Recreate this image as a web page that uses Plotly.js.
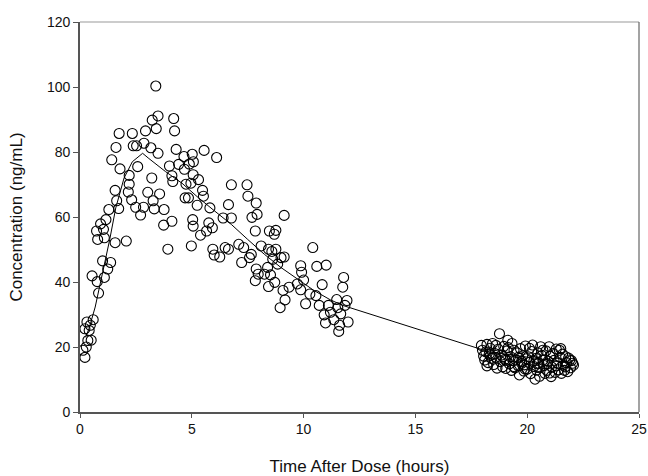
<!DOCTYPE html>
<html>
<head>
<meta charset="utf-8">
<script src="https://cdn.plot.ly/plotly-3.0.1.min.js"></script>
<style>html,body{margin:0;padding:0;background:#fff;}#chart{width:648px;height:476px;}</style>
</head>
<body>
<div id="chart"></div>
<script>
// Observed concentrations, absorption/elimination phase (0-12 h)
var earlyTime = [0.22,0.13,0.28,0.31,0.41,0.35,0.5,0.59,0.46,0.22,0.54,0.77,0.83,0.74,0.79,0.92,1.05,1.09,1.16,1.01,1.09,1.24,1.37,1.29,1.42,1.61,1.75,1.79,1.73,1.57,1.64,1.57,2.07,2.2,2.2,2.16,2.34,2.38,2.31,2.53,2.58,2.49,2.71,2.86,2.93,2.84,3.03,3.17,3.23,3.21,3.27,3.32,3.39,3.41,3.49,3.49,3.56,3.76,3.74,3.93,4.0,4.11,4.15,4.11,4.19,4.23,4.3,4.41,4.65,4.67,4.74,4.7,4.85,4.89,5.02,5.07,5.06,4.96,4.98,5.04,5.06,5.24,5.3,5.39,5.48,5.52,5.55,5.66,5.76,5.81,5.92,5.94,6.0,6.11,6.25,6.4,6.49,6.64,6.64,6.77,6.77,7.1,7.23,7.32,7.47,7.51,7.58,7.66,7.69,7.84,7.88,7.92,7.88,7.84,7.97,8.1,8.25,8.39,8.43,8.43,8.47,8.52,8.58,8.62,8.69,8.76,8.71,8.76,8.84,8.95,8.99,9.08,9.17,9.13,9.13,9.35,9.72,9.87,9.91,9.87,10.0,10.09,10.28,10.41,10.55,10.59,10.7,10.83,10.92,10.98,11.01,11.11,11.2,11.35,11.48,11.53,11.57,11.61,11.66,11.75,11.79,11.85,11.94,11.99];
var earlyConc = [16.8,19.0,20.0,27.7,25.1,22.0,22.1,28.4,26.7,25.6,41.9,40.1,36.6,55.7,53.1,57.9,56.2,53.6,59.2,46.5,41.4,44.0,46.0,62.3,77.6,81.4,85.7,74.8,62.6,68.2,65.0,52.1,52.6,72.8,70.1,67.7,85.7,81.9,65.3,81.9,75.5,63.0,60.6,82.7,86.5,63.0,67.6,81.3,89.8,72.0,65.0,62.5,100.3,87.2,91.1,79.6,67.1,62.3,57.5,50.1,75.7,72.7,70.9,58.7,90.3,86.5,80.8,76.2,78.6,74.7,70.1,65.9,65.9,76.3,79.3,77.0,73.0,70.4,51.1,59.2,57.2,63.6,71.5,54.4,68.2,66.4,80.5,55.7,58.2,62.8,56.7,50.1,48.3,78.3,47.7,59.7,50.6,63.8,50.1,69.9,59.7,51.6,46.0,50.6,69.9,66.4,47.5,48.5,59.9,55.7,64.3,60.8,44.0,40.4,42.4,51.1,42.4,44.5,38.6,50.1,55.7,42.2,49.4,47.0,54.7,55.9,39.9,50.1,45.5,32.1,47.5,37.4,34.5,60.5,47.7,38.4,39.4,45.0,43.0,37.6,40.6,33.3,36.3,50.6,35.8,44.8,32.8,39.2,29.9,27.4,45.2,32.8,30.7,28.4,34.6,32.1,24.8,26.7,30.2,38.4,41.4,32.8,34.3,27.7];
// Observed concentrations, trough phase (18-22 h)
var lateTime = [17.95,18.0,18.05,18.1,18.15,18.2,18.25,18.3,18.35,18.4,18.45,18.5,18.55,18.6,18.65,18.7,18.76,18.8,18.85,18.9,18.95,19.0,19.04,19.1,19.13,19.2,19.25,19.3,19.32,19.38,19.41,19.45,19.5,19.55,19.6,19.65,19.7,19.75,19.8,19.85,19.87,19.92,19.97,20.0,20.05,20.1,20.15,20.2,20.24,20.3,20.35,20.4,20.42,20.48,20.52,20.56,20.6,20.65,20.7,20.75,20.79,20.84,20.88,20.93,20.98,21.02,21.07,21.1,21.16,21.2,21.25,21.3,21.35,21.4,21.44,21.48,21.53,21.58,21.62,21.67,21.72,21.76,21.81,21.85,21.9,21.94,21.98,22.03,22.07,18.2,19.15,20.1,20.7,21.5,19.9,20.55,21.0,18.6,19.4,18.9,19.6,20.3,20.9,21.3,21.7,18.35,19.05,19.75,20.45];
var lateConc = [20.5,19.0,17.2,16.0,18.5,20.8,15.2,17.8,19.6,16.5,21.1,14.6,18.0,16.8,13.5,19.3,24.1,15.5,17.5,13.9,20.2,16.2,13.4,18.8,22.1,14.8,17.0,12.8,21.1,15.8,19.0,13.6,16.0,18.2,14.2,11.4,19.5,15.0,17.3,12.6,14.5,20.3,16.4,13.2,17.0,15.3,11.8,18.6,20.6,14.0,10.1,16.5,12.9,18.2,15.0,13.6,20.1,17.4,16.0,14.3,11.9,18.8,12.8,15.6,20.1,17.2,10.9,13.8,18.0,15.9,12.2,19.4,15.0,13.0,19.0,16.8,11.9,17.8,14.4,12.8,17.0,15.2,12.4,16.6,16.0,13.6,15.8,15.0,14.4,14.2,19.8,19.6,19.0,19.5,13.3,11.0,12.0,20.5,14.0,17.0,16.8,15.8,14.9,14.2,13.9,17.4,15.9,15.6,14.8];
// Model-predicted curve
var fitTime = [0.25,0.4,0.68,1.01,1.33,1.6,1.97,2.34,2.8,3.08,3.82,4.56,5.3,6.03,6.77,7.5,8.25,8.98,9.72,10.46,11.2,11.75,18.3,22.0];
var fitConc = [23.0,25.6,32.3,42.4,53.1,62.8,72.0,77.0,79.6,78.0,74.0,70.4,65.9,61.8,57.7,53.1,48.5,44.5,40.9,37.4,34.5,32.8,18.5,15.0];

var obsX = earlyTime.concat(lateTime);
var obsY = earlyConc.concat(lateConc);

var traces = [
  {x: fitTime, y: fitConc, type: 'scatter', mode: 'lines', line: {color: '#000', width: 1}, hoverinfo: 'skip'},
  {x: obsX, y: obsY, type: 'scatter', mode: 'markers',
   marker: {symbol: 'circle-open', size: 10, color: '#000', line: {color: '#000', width: 1.1}}}
];

var fam = 'Liberation Sans, Arial, sans-serif';
var tickFont = {family: fam, size: 14, color: '#111'};
var layout = {
  width: 648, height: 476,
  margin: {l: 80, r: 9, t: 22, b: 64},
  paper_bgcolor: '#fff', plot_bgcolor: '#fff',
  showlegend: false,
  xaxis: {
    range: [0, 25], tickvals: [0,5,10,15,20,25], ticktext: ['0','5','10','15','20','25'],
    showgrid: false, zeroline: false, showline: true, linecolor: '#555', linewidth: 1.5,
    ticks: 'outside', ticklen: 4, tickcolor: '#555', tickfont: tickFont,
    title: {text: 'Time After Dose (hours)', font: {family: fam, size: 17, color: '#111'}, standoff: 24}
  },
  yaxis: {
    range: [0, 120], tickvals: [0,20,40,60,80,100,120], ticktext: ['0','20','40','60','80','100','120'],
    showgrid: false, zeroline: false, showline: true, linecolor: '#555', linewidth: 1.8,
    ticks: 'outside', ticklen: 5, tickcolor: '#555', tickfont: tickFont,
    title: {text: 'Concentration (ng/mL)', font: {family: fam, size: 17, color: '#111'}, standoff: 20}
  },
  shapes: [
    {type: 'line', xref: 'paper', yref: 'paper', x0: 0, x1: 1, y0: 1, y1: 1, line: {color: '#999', width: 1}},
    {type: 'line', xref: 'paper', yref: 'paper', x0: 1, x1: 1, y0: 0, y1: 1, line: {color: '#666', width: 1.2}}
  ]
};
Plotly.newPlot('chart', traces, layout, {staticPlot: true, displayModeBar: false});
</script>
</body>
</html>
